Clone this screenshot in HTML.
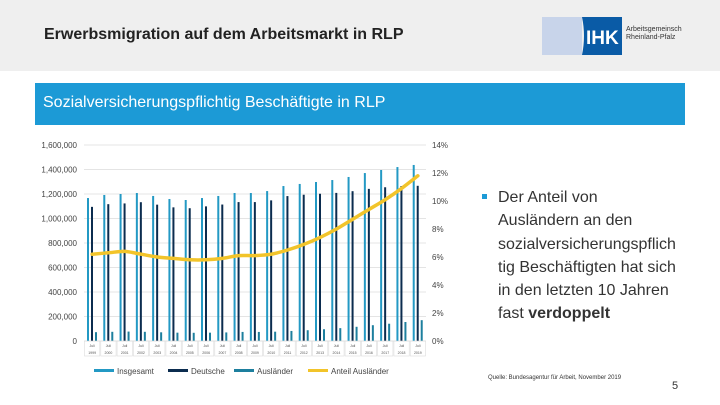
<!DOCTYPE html>
<html><head><meta charset="utf-8"><style>
body{margin:0;width:720px;height:405px;overflow:hidden;background:#fff;font-family:"Liberation Sans",sans-serif;position:relative}
.hdr{position:absolute;left:0;top:0;width:720px;height:71px;background:#efefef}
.title{position:absolute;left:44px;top:26px;font-size:16px;font-weight:bold;color:#222}
.banner{position:absolute;left:35px;top:83px;width:650px;height:42px;background:#1c9ad6}
.banner span{position:absolute;left:8px;top:11px;color:#fff;font-size:16px}
.bullet{position:absolute;left:498px;top:186px;width:220px;font-size:16px;line-height:23.3px;color:#333}
.bullet div{white-space:nowrap}
</style></head><body>
<div class="hdr"></div>
<div class="title">Erwerbsmigration auf dem Arbeitsmarkt in RLP</div>
<svg style="position:absolute;left:542px;top:17px" width="140" height="40">
<rect x="0" y="0" width="40" height="38" fill="#c8d4ea"/><path d="M40 0H80V38H40Q44 19 40 0Z" fill="#0a5ba6"/>
<text x="44" y="27" fill="#fff" font-size="19" font-weight="bold" font-family="Liberation Sans">IHK</text>
<text x="84" y="14" font-size="7" fill="#333" font-family="Liberation Sans">Arbeitsgemeinschaft</text>
<text x="84" y="22" font-size="7" fill="#333" font-family="Liberation Sans">Rheinland-Pfalz</text></svg>
<div class="banner"><span>Sozialversicherungspflichtig Beschäftigte in RLP</span></div>
<svg id="chart" style="position:absolute;left:0;top:0" width="720" height="405"></svg>
<div style="position:absolute;left:482px;top:194px;width:5px;height:5px;background:#1c9ad6"></div>
<div class="bullet">
<div>Der Anteil von</div>
<div>Ausländern an den</div>
<div>sozialversicherungspflich</div>
<div>tig Beschäftigten hat sich</div>
<div>in den letzten 10 Jahren</div>
<div>fast <b>verdoppelt</b></div>
</div>
<div style="position:absolute;left:488px;top:375px;font-size:6px;color:#333">Quelle: Bundesagentur für Arbeit, November 2019</div>
<div style="position:absolute;left:672px;top:380px;font-size:11px;color:#333">5</div>
<script>
const years=["1999","2000","2001","2002","2003","2004","2005","2006","2007","2008","2009","2010","2011","2012","2013","2014","2015","2016","2017","2018","2019"];
const insgesamt=[1167,1192,1200,1208,1184,1159,1151,1167,1184,1208,1208,1224,1265,1282,1298,1314,1339,1371,1396,1420,1437];
const auslaender=[72,75,77,75,71,68,67,68,70,74,74,76,82,88,96,105,116,129,141,155,170];
const deutsche=[1095,1117,1123,1133,1113,1091,1084,1099,1114,1134,1134,1148,1183,1194,1202,1209,1223,1242,1255,1265,1267];
const anteil=[6.2,6.3,6.4,6.2,6.0,5.9,5.8,5.8,5.9,6.1,6.1,6.2,6.5,6.9,7.4,8.0,8.7,9.4,10.1,10.9,11.8];
const leftTicks=["0","200,000","400,000","600,000","800,000","1,000,000","1,200,000","1,400,000","1,600,000"];
const rightTicks=["0%","2%","4%","6%","8%","10%","12%","14%"];
const svg=document.getElementById('chart');const NS="http://www.w3.org/2000/svg";
const X0=84,X1=426,Y0=341,YT=145;
const yL=v=>Y0-(v/1600)*(Y0-YT);const yR=p=>Y0-(p/14)*(Y0-YT);
const gw=(X1-X0)/years.length;const gx=i=>X0+i*gw;
function el(t,a,txt){const e=document.createElementNS(NS,t);for(const k in a)e.setAttribute(k,a[k]);if(txt!==undefined)e.textContent=txt;svg.appendChild(e);return e;}
leftTicks.forEach((t,i)=>{const y=yL(i*200);
const g=el('line',{x1:X0,x2:X1,y1:y,y2:y,stroke:'#e4e4e4','stroke-width':1});

const l=el('text',{x:77,y:y+3,'text-anchor':'end','font-size':8,fill:'#444','font-family':'Liberation Sans'},t);
});
rightTicks.forEach((t,i)=>{const l=el('text',{x:432,y:yR(i*2)+3,'font-size':8,fill:'#444','font-family':'Liberation Sans'},t);
});
years.forEach((yr,i)=>{const x=gx(i);
const b1=el('rect',{x:x+3,y:yL(insgesamt[i]),width:2,height:Y0-yL(insgesamt[i]),fill:'#2399c4'});

const b2=el('rect',{x:x+7,y:yL(deutsche[i]),width:2,height:Y0-yL(deutsche[i]),fill:'#0b2c4f'});

const b3=el('rect',{x:x+11,y:yL(auslaender[i]),width:2,height:Y0-yL(auslaender[i]),fill:'#1d7f9e'});

const bx=el('rect',{x:x+0.5,y:341,width:gw-1,height:15,fill:'none',stroke:'#dcdcdc','stroke-width':0.6});

const t1=el('text',{x:x+gw/2,y:347,'text-anchor':'middle','font-size':3.5,fill:'#555','font-family':'Liberation Sans'},'Juli');

const t2=el('text',{x:x+gw/2,y:354,'text-anchor':'middle','font-size':3.5,fill:'#555','font-family':'Liberation Sans'},yr);
});
const pts=anteil.map((p,i)=>[gx(i)+gw/2,yR(p)]);
let d="M"+pts[0][0]+" "+pts[0][1];
for(let i=1;i<pts.length;i++){const p0=pts[i-2]||pts[i-1],p1=pts[i-1],p2=pts[i],p3=pts[i+1]||pts[i];
const c1x=p1[0]+(p2[0]-p0[0])/6,c1y=p1[1]+(p2[1]-p0[1])/6,c2x=p2[0]-(p3[0]-p1[0])/6,c2y=p2[1]-(p3[1]-p1[1])/6;
d+=` C${c1x} ${c1y} ${c2x} ${c2y} ${p2[0]} ${p2[1]}`;}
const ln=el('path',{d:d,fill:'none',stroke:'#f2c42a','stroke-width':3.5,'stroke-linecap':'round'});

const leg=[["Insgesamt","#2399c4",94],["Deutsche","#0b2c4f",168],["Ausländer","#1d7f9e",234],["Anteil Ausländer","#f2c42a",308]];
leg.forEach(l=>{const r=el('rect',{x:l[2],y:369,width:20,height:3,fill:l[1]});

const t=el('text',{x:l[2]+23,y:374,'font-size':8,fill:'#444','font-family':'Liberation Sans'},l[0]);
});
</script>
</body></html>
